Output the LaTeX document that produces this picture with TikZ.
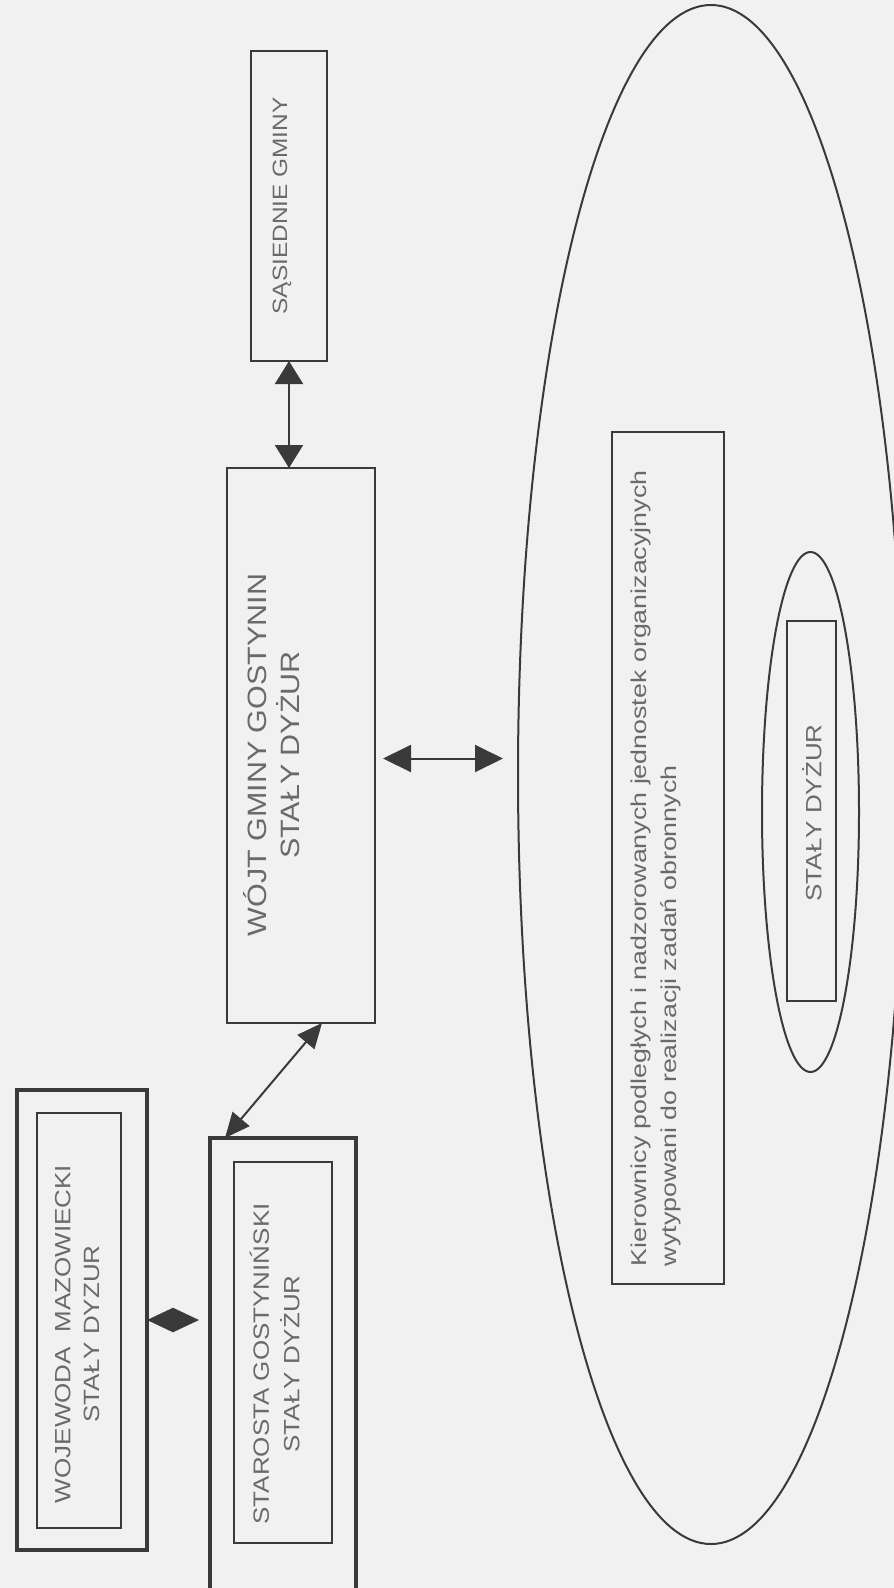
\documentclass[tikz,border=0pt]{standalone}
\usepackage{fontspec}
\setmainfont{Liberation Sans}
\usetikzlibrary{arrows.meta,shapes.geometric,calc}
\definecolor{ln}{HTML}{3A3A3A}
\definecolor{tx}{HTML}{6A6A6A}
\definecolor{bg}{HTML}{F1F1F1}
\begin{document}
\begin{tikzpicture}[x=1pt,y=-1pt,
  box/.style={draw=ln, line width=2pt, inner sep=0pt, outer sep=0pt, rectangle},
  thickbox/.style={box, line width=4.5pt},
  oval/.style={draw=ln, line width=2pt, ellipse, inner sep=0pt, outer sep=0pt},
  lbl/.style={text=tx, rotate=90, inner sep=0pt, outer sep=0pt},
  arrline/.style={draw=ln, line width=2pt},
]
\fill[bg] (0,0) rectangle (894,1588);
\useasboundingbox (0,0) rectangle (894,1588);

% boxes
\node[thickbox, minimum width=130pt, minimum height=460pt] (wojo) at (82,1320) {};
\node[box, minimum width=84pt, minimum height=415pt] (wojoin) at (79,1320.5) {};
\node[thickbox, minimum width=146pt, minimum height=458pt] (staro) at (283,1367) {};
\node[box, minimum width=98pt, minimum height=381pt] (staroin) at (283,1352.5) {};
\node[box, minimum width=148pt, minimum height=555pt] (wojt) at (301,745.5) {};
\node[box, minimum width=76pt, minimum height=310pt] (sas) at (289,206) {};
\node[oval, minimum width=386pt, minimum height=1539pt] (big) at (711,774.5) {};
\node[box, minimum width=112pt, minimum height=852pt] (kier) at (668,858) {};
\node[oval, minimum width=97pt, minimum height=520pt] (small) at (810.5,812) {};
\node[box, minimum width=49pt, minimum height=380pt] (dyz) at (811.5,811) {};

% texts
\node[lbl] (wojotxt) at (79,1334)
  {\scalebox{1}[0.85]{\fontsize{26}{34}\selectfont\begin{tabular}{@{}c@{}}WOJEWODA~~MAZOWIECKI\\STAŁY DYZUR\end{tabular}}};
\node[lbl] (starotxt) at (278,1364)
  {\scalebox{1}[0.85]{\fontsize{26}{36}\selectfont\begin{tabular}{@{}c@{}}STAROSTA GOSTYNIŃSKI\\STAŁY DYŻUR\end{tabular}}};
\node[lbl] (wojttxt) at (276,755)
  {\scalebox{1}[0.87]{\fontsize{30.5}{34.5}\selectfont\begin{tabular}{@{}c@{}}WÓJT GMINY GOSTYNIN\\STAŁY DYŻUR\end{tabular}}};
\node[lbl] (sastxt) at (282,206)
  {\scalebox{1}[0.85]{\fontsize{24.4}{30}\selectfont SĄSIEDNIE GMINY}};
\node[lbl, anchor=west] (kiertxt) at (655,1266)
  {\scalebox{1}[0.8]{\fontsize{26.8}{37.5}\selectfont\begin{tabular}{@{}l@{}}Kierownicy podległych i nadzorowanych jednostek organizacyjnych\\wytypowani do realizacji zadań obronnych\end{tabular}}};
\node[lbl] (dyztxt) at (812,813)
  {\scalebox{1}[0.85]{\fontsize{26}{30}\selectfont STAŁY DYŻUR}};

% connectors
\draw[arrline, {Triangle[length=26pt,width=24pt]}-{Triangle[length=26pt,width=24pt]}, shorten >=11pt]
  (wojo.east) -- (wojo.east -| staro.west);
\draw[arrline, {Triangle[length=23pt,width=28pt]}-{Triangle[length=23pt,width=28pt]}]
  (sas.south) -- (sas.south |- wojt.north);
\draw[arrline, {Triangle[length=28pt,width=27pt]}-{Triangle[length=28pt,width=27pt]}, shorten <=8pt, shorten >=15pt]
  ([yshift=-13pt]wojt.east) -- ([yshift=-13pt]wojt.east -| big.west);
\draw[arrline, {Triangle[length=25pt,width=22pt]}-{Triangle[length=25pt,width=22pt]}]
  ([xshift=15pt]staro.north west) -- ([xshift=21pt]wojt.south);
\end{tikzpicture}
\end{document}
